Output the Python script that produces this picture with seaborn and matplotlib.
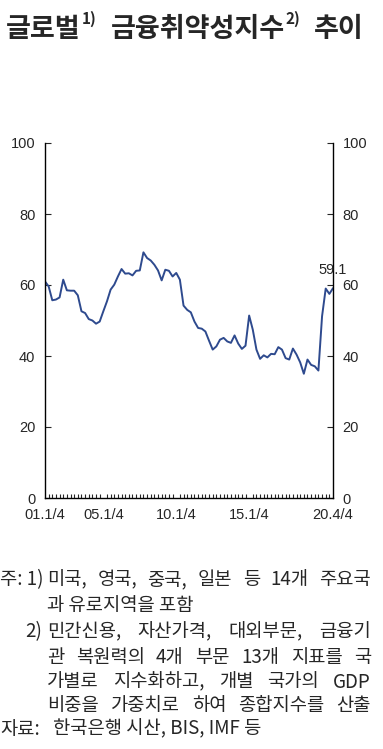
import numpy as np
import pandas as pd
import seaborn as sns
import matplotlib.pyplot as plt
from matplotlib.ticker import MultipleLocator

# Global financial vulnerability index, quarterly 2001Q1 - 2020Q4
index_values = [
    61.0, 59.6, 55.7, 55.9, 56.5, 61.5, 58.5, 58.4, 58.4, 57.1,
    52.6, 52.1, 50.4, 50.0, 49.1, 49.7, 52.6, 55.4, 58.7, 60.1,
    62.4, 64.5, 63.2, 63.3, 62.7, 64.0, 64.1, 69.2, 67.6, 66.9,
    65.7, 64.1, 61.3, 64.3, 64.0, 62.4, 63.4, 61.5, 54.2, 53.0,
    52.3, 49.7, 47.9, 47.7, 46.9, 44.3, 41.8, 42.7, 44.6, 45.1,
    44.1, 43.7, 45.8, 43.5, 42.0, 42.9, 51.4, 47.4, 41.8, 39.2,
    40.2, 39.6, 40.6, 40.5, 42.5, 41.8, 39.4, 39.0, 42.1, 40.4,
    38.2, 35.0, 39.0, 37.5, 37.1, 35.9, 51.2, 59.0, 57.5, 59.1,
]
xtick_pos = [0, 16, 36, 56, 79]
xtick_labels = ["01.1/4", "05.1/4", "10.1/4", "15.1/4", "20.4/4"]
last_label = "59.1"

title_parts = ["글로벌", "1)", "금융취약성지수", "2)", "추이"]
note_lines = [
    "미국, 영국, 중국, 일본 등 14개 주요국",
    "과 유로지역을 포함",
    "민간신용, 자산가격, 대외부문, 금융기",
    "관 복원력의 4개 부문 13개 지표를 국",
    "가별로 지수화하고, 개별 국가의 GDP",
    "비중을 가중치로 하여 종합지수를 산출",
]
source_line = "한국은행 시산, BIS, IMF 등"

df = pd.DataFrame({"q": np.arange(len(index_values)), "v": index_values})

sns.set_style("ticks")
plt.rcParams["font.family"] = ["Noto Sans CJK KR", "DejaVu Sans"]
tick_font = ["Liberation Sans Narrow", "Liberation Sans", "DejaVu Sans"]

W, H = 383, 749
fig = plt.figure(figsize=(W / 100, H / 100), dpi=100)
fig.patch.set_facecolor("white")
renderer = fig.canvas.get_renderer()


def fx(px):
    return px / W


def fy(py):
    return 1 - py / H


ax = fig.add_axes([fx(45), fy(498), fx(333) - fx(45), fy(143) - fy(498)])
sns.lineplot(data=df, x="q", y="v", ax=ax, color="#2E4A8E", linewidth=1.4)

ax.set_xlim(0, 79)
ax.set_ylim(0, 100)
ax.set_xlabel("")
ax.set_ylabel("")
ax.set_yticks([0, 20, 40, 60, 80, 100])
ax.set_xticks(xtick_pos)
ax.set_xticklabels(xtick_labels)
ax.xaxis.set_minor_locator(MultipleLocator(1))
ax.tick_params(axis="x", which="major", length=0, pad=7, labelsize=10.5)
ax.tick_params(axis="x", which="minor", direction="in", length=3, width=0.8)
ax.tick_params(axis="y", direction="in", length=4, width=0.8, right=True,
               labelright=True, labelsize=10.5, pad=7)
for lab in ax.get_xticklabels():
    lab.set_family(tick_font)
for t in ax.yaxis.get_major_ticks():
    t.label1.set_family(tick_font)
    t.label2.set_family(tick_font)
ax.spines["top"].set_visible(False)
for s in ["left", "right", "bottom"]:
    ax.spines[s].set_linewidth(1.0)
    ax.spines[s].set_color("black")

ax.text(79, 62.3, last_label, ha="center", va="bottom", fontsize=10.5,
        family=tick_font)

# title, laid out piece by piece so superscripts sit right after the words
x = 6
for i, part in enumerate(title_parts):
    sup = part.endswith(")")
    t = fig.text(fx(x), fy(24 if sup else 37), part, va="baseline",
                 fontsize=11 if sup else 19.5, fontweight="bold")
    x += t.get_window_extent(renderer).width + (14 if sup else 1)

# notes
note_size = 13.5


def justified(line, x0, x1, yc):
    words = line.split(" ")
    texts = [fig.text(fx(x0), fy(yc), w, fontsize=note_size, va="center")
             for w in words]
    widths = [t.get_window_extent(renderer).width for t in texts]
    gap = (x1 - x0 - sum(widths)) / (len(words) - 1)
    xx = x0
    for t, w in zip(texts, widths):
        t.set_x(fx(xx))
        xx += w + gap


rows = [580, 605, 632, 657, 682, 706, 729]
fig.text(fx(0), fy(rows[0]), "주: 1)", fontsize=note_size, va="center")
fig.text(fx(25), fy(rows[2]), "2)", fontsize=note_size, va="center")
for i, line in enumerate(note_lines):
    if i == 1:
        fig.text(fx(47), fy(rows[i]), line, fontsize=note_size, va="center")
    else:
        justified(line, 47, 371, rows[i])
fig.text(fx(0), fy(rows[6]), "자료:", fontsize=note_size, va="center")
fig.text(fx(53), fy(rows[6]), source_line, fontsize=note_size, va="center")

fig.savefig("out.png", dpi=100)
